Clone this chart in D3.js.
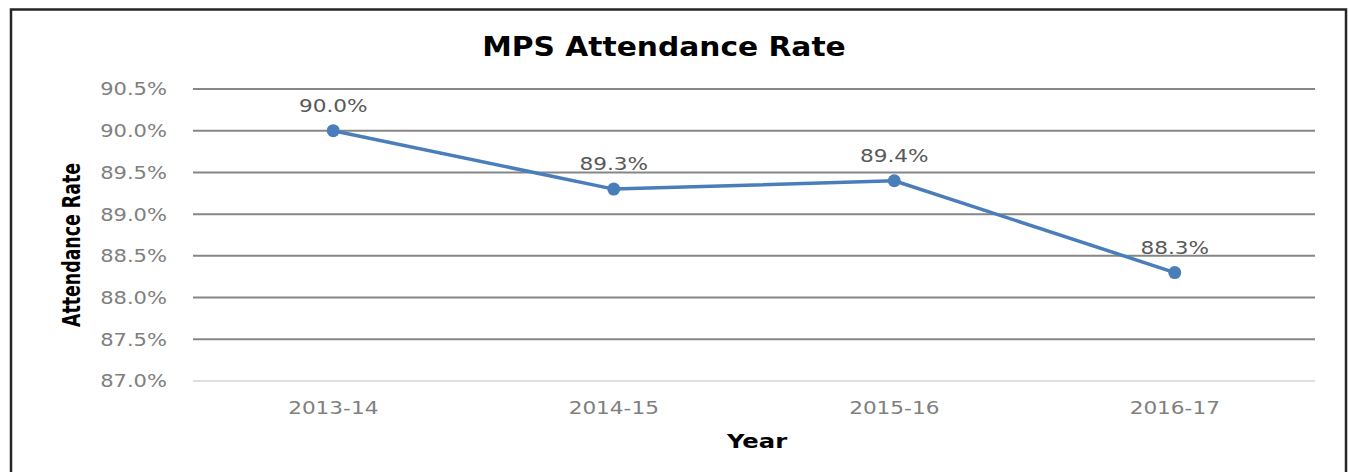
<!DOCTYPE html>
<html>
<head>
<meta charset="utf-8">
<style>
  body { margin: 0; background: #fff; }
  svg { display: block; }
</style>
</head>
<body>
<svg width="1349" height="472"></svg>
<script src="https://d3js.org/d3.v7.min.js"></script>
<script>
// chart data
var years = ["2013-14", "2014-15", "2015-16", "2016-17"];
var rates = [90.0, 89.3, 89.4, 88.3];
var yTicks = [87.0, 87.5, 88.0, 88.5, 89.0, 89.5, 90.0, 90.5];

var svg = d3.select("svg");

// the source picture is a bit stretched sideways, so text gets a small x-scale
function place(tx, ty, sx) {
  return "translate(" + tx + "," + ty + ") scale(" + sx + ",1)";
}

// outer frame
svg.append("rect")
    .attr("x", 11).attr("y", 9.5)
    .attr("width", 1335).attr("height", 480)
    .attr("fill", "none")
    .attr("stroke", "#262626")
    .attr("stroke-width", 2.5);

var x = d3.scalePoint()
    .domain(years)
    .range([193, 1315])
    .padding(0.5);

var y = d3.scaleLinear()
    .domain([87.0, 90.5])
    .range([381, 89]);

// grid lines
svg.append("g").selectAll("line")
  .data(yTicks)
  .enter().append("line")
    .attr("x1", x.range()[0])
    .attr("x2", x.range()[1])
    .attr("y1", function(d) { return y(d); })
    .attr("y2", function(d) { return y(d); })
    .attr("stroke", function(d) { return d === 87.0 ? "#dedede" : "#868686"; })
    .attr("stroke-width", 2);

// y tick labels
svg.append("g").selectAll("text")
  .data(yTicks)
  .enter().append("text")
    .attr("transform", function(d) { return place(167, y(d), 1.17); })
    .attr("dy", "0.36em")
    .attr("text-anchor", "end")
    .attr("fill", "#808080")
    .style("font", "18px 'DejaVu Sans'")
    .text(function(d) { return d.toFixed(1) + "%"; });

// x tick labels
svg.append("g").selectAll("text")
  .data(years)
  .enter().append("text")
    .attr("transform", function(d) { return place(x(d), 414, 1.2); })
    .attr("text-anchor", "middle")
    .attr("fill", "#808080")
    .style("font", "18px 'DejaVu Sans'")
    .text(function(d) { return d; });

var pts = years.map(function(d, i) { return [x(d), y(rates[i])]; });

svg.append("path")
    .attr("d", d3.line()(pts))
    .attr("fill", "none")
    .attr("stroke", "#4a7ebb")
    .attr("stroke-width", 3.5)
    .attr("stroke-linejoin", "round");

svg.append("g").selectAll("circle")
  .data(pts)
  .enter().append("circle")
    .attr("cx", function(d) { return d[0]; })
    .attr("cy", function(d) { return d[1]; })
    .attr("r", 6.5)
    .attr("fill", "#4a7ebb");

// data labels
svg.append("g").selectAll("text")
  .data(rates)
  .enter().append("text")
    .attr("transform", function(d, i) { return place(x(years[i]), y(d) - 19, 1.2); })
    .attr("text-anchor", "middle")
    .attr("fill", "#595959")
    .style("font", "18px 'DejaVu Sans'")
    .text(function(d) { return d.toFixed(1) + "%"; });

// title
svg.append("text")
    .attr("transform", place(664, 56, 1.1))
    .attr("text-anchor", "middle")
    .attr("fill", "#000")
    .style("font", "bold 27px 'DejaVu Sans'")
    .text("MPS Attendance Rate");

// axis titles
svg.append("text")
    .attr("transform", "translate(80,245) rotate(-90)")
    .attr("text-anchor", "middle")
    .attr("fill", "#000")
    .attr("textLength", 164)
    .attr("lengthAdjust", "spacingAndGlyphs")
    .style("font", "bold 25px 'Liberation Sans Narrow', 'DejaVu Sans Condensed', sans-serif")
    .text("Attendance Rate");

svg.append("text")
    .attr("transform", place(757, 448, 1.28))
    .attr("text-anchor", "middle")
    .attr("fill", "#000")
    .style("font", "bold 19px 'DejaVu Sans'")
    .text("Year");
</script>
</body>
</html>
